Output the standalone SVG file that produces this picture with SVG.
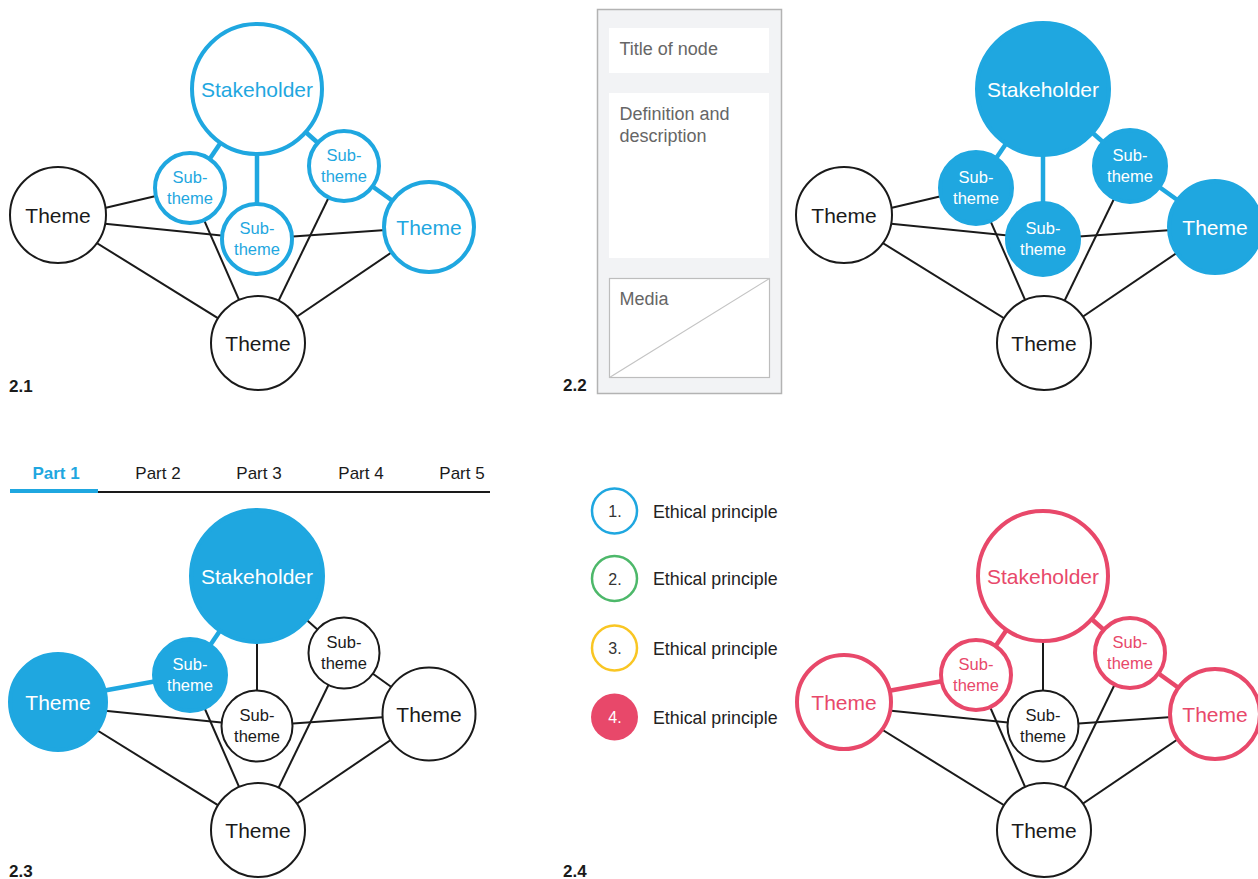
<svg xmlns="http://www.w3.org/2000/svg" width="1258" height="879" viewBox="0 0 1258 879">
<style>
.e{stroke:#1a1a1a;stroke-width:2;fill:none}
.eb{stroke:#1fa7e0;stroke-width:4.5;fill:none}
.ep{stroke:#e8486a;stroke-width:4.5;fill:none}
.n{fill:#fff;stroke:#1a1a1a;stroke-width:2}
.nb{fill:#fff;stroke:#1fa7e0;stroke-width:4}
.nbf{fill:#1fa7e0;stroke:#1fa7e0;stroke-width:4}
.np{fill:#fff;stroke:#e8486a;stroke-width:4}
.t{font-family:"Liberation Sans",Arial,sans-serif;text-anchor:middle}
.big{font-size:21px}
.sm{font-size:16.5px}
.k{fill:#1a1a1a}
.b{fill:#1fa7e0}
.w{fill:#fff}
.p{fill:#e8486a}
.lbl{font-family:"Liberation Sans",Arial,sans-serif;font-size:17px;font-weight:bold;fill:#1a1a1a}
.card{font-family:"Liberation Sans",Arial,sans-serif;font-size:18px;fill:#666}
.leg{font-family:"Liberation Sans",Arial,sans-serif;font-size:17.8px;fill:#222}
.num{font-family:"Liberation Sans",Arial,sans-serif;font-size:16px;text-anchor:middle}
</style>

<!-- Panel 2.1 -->
<g id="panel-2-1">
  <g id="p1-connectors">
    <line class="eb" x1="257" y1="89" x2="190" y2="188"/>
    <line class="eb" x1="257" y1="89" x2="257" y2="239"/>
    <line class="eb" x1="257" y1="89" x2="344" y2="166"/>
    <line class="eb" x1="344" y1="166" x2="429" y2="227"/>
    <line class="e" x1="58" y1="219" x2="190" y2="188"/>
    <line class="e" x1="58" y1="219" x2="257" y2="239"/>
    <line class="e" x1="257" y1="239" x2="429" y2="227"/>
    <line class="e" x1="58" y1="219" x2="258" y2="343"/>
    <line class="e" x1="190" y1="188" x2="258" y2="343"/>
    <line class="e" x1="344" y1="166" x2="258" y2="343"/>
    <line class="e" x1="429" y1="227" x2="258" y2="343"/>
  </g>
  <g id="p1-stakeholder"><circle class="nb" cx="257" cy="89" r="65"/><text class="t big b" x="257" y="96.5">Stakeholder</text></g>
  <g id="p1-subtheme-left"><circle class="nb" cx="190" cy="188" r="35"/><text class="t sm b" x="190" y="183">Sub-</text><text class="t sm b" x="190" y="203.5">theme</text></g>
  <g id="p1-subtheme-mid"><circle class="nb" cx="257" cy="239" r="35"/><text class="t sm b" x="257" y="234">Sub-</text><text class="t sm b" x="257" y="254.5">theme</text></g>
  <g id="p1-subtheme-right"><circle class="nb" cx="344" cy="166" r="35"/><text class="t sm b" x="344" y="161">Sub-</text><text class="t sm b" x="344" y="181.5">theme</text></g>
  <g id="p1-theme-left"><circle class="n" cx="58" cy="215" r="48"/><text class="t big k" x="58" y="223">Theme</text></g>
  <g id="p1-theme-right"><circle class="nb" cx="429" cy="227" r="45"/><text class="t big b" x="429" y="235">Theme</text></g>
  <g id="p1-theme-bottom"><circle class="n" cx="258" cy="343" r="47"/><text class="t big k" x="258" y="351">Theme</text></g>
  <text class="lbl" x="9" y="392">2.1</text>
</g>

<!-- Panel 2.2 card -->
<g id="panel-2-2-card">
  <rect x="597.5" y="9.5" width="184" height="384" fill="#f2f3f5" stroke="#b3b3b3" stroke-width="1.5"/>
  <rect x="609" y="28" width="160" height="45" fill="#fff"/>
  <rect x="609" y="93" width="160" height="165" fill="#fff"/>
  <rect x="609.5" y="278.5" width="160" height="99" fill="#fff" stroke="#bdbdbd" stroke-width="1.2"/>
  <line x1="609.5" y1="377.5" x2="769.5" y2="278.5" stroke="#c4c4c4" stroke-width="1.2"/>
  <text class="card" x="619.5" y="55">Title of node</text>
  <text class="card" x="619.5" y="120">Definition and</text>
  <text class="card" x="619.5" y="142">description</text>
  <text class="card" x="619.5" y="305">Media</text>
  <text class="lbl" x="563" y="391">2.2</text>
</g>

<!-- Panel 2.2 graph -->
<g id="panel-2-2" transform="translate(786,0)">
  <g id="p2-connectors">
    <line class="eb" x1="257" y1="89" x2="190" y2="188"/>
    <line class="eb" x1="257" y1="89" x2="257" y2="239"/>
    <line class="eb" x1="257" y1="89" x2="344" y2="166"/>
    <line class="eb" x1="344" y1="166" x2="429" y2="227"/>
    <line class="e" x1="58" y1="219" x2="190" y2="188"/>
    <line class="e" x1="58" y1="219" x2="257" y2="239"/>
    <line class="e" x1="257" y1="239" x2="429" y2="227"/>
    <line class="e" x1="58" y1="219" x2="258" y2="343"/>
    <line class="e" x1="190" y1="188" x2="258" y2="343"/>
    <line class="e" x1="344" y1="166" x2="258" y2="343"/>
    <line class="e" x1="429" y1="227" x2="258" y2="343"/>
  </g>
  <g id="p2-stakeholder"><circle class="nbf" cx="257" cy="89" r="66"/><text class="t big w" x="257" y="96.5">Stakeholder</text></g>
  <g id="p2-subtheme-left"><circle class="nbf" cx="190" cy="188" r="36"/><text class="t sm w" x="190" y="183">Sub-</text><text class="t sm w" x="190" y="203.5">theme</text></g>
  <g id="p2-subtheme-mid"><circle class="nbf" cx="257" cy="239" r="36"/><text class="t sm w" x="257" y="234">Sub-</text><text class="t sm w" x="257" y="254.5">theme</text></g>
  <g id="p2-subtheme-right"><circle class="nbf" cx="344" cy="166" r="36"/><text class="t sm w" x="344" y="161">Sub-</text><text class="t sm w" x="344" y="181.5">theme</text></g>
  <g id="p2-theme-left"><circle class="n" cx="58" cy="215" r="48"/><text class="t big k" x="58" y="223">Theme</text></g>
  <g id="p2-theme-right"><circle class="nbf" cx="429" cy="227" r="46"/><text class="t big w" x="429" y="235">Theme</text></g>
  <g id="p2-theme-bottom"><circle class="n" cx="258" cy="343" r="47"/><text class="t big k" x="258" y="351">Theme</text></g>
</g>

<!-- Panel 2.3 tabs -->
<g id="panel-2-3-tabs">
  <line x1="10" y1="492" x2="490" y2="492" stroke="#1a1a1a" stroke-width="2"/>
  <line x1="10" y1="491" x2="98" y2="491" stroke="#1fa7e0" stroke-width="4"/>
  <text class="t" x="56" y="479" style="font-size:17px;font-weight:bold;fill:#1fa7e0">Part 1</text>
  <text class="t k" x="158" y="479" style="font-size:17px">Part 2</text>
  <text class="t k" x="259" y="479" style="font-size:17px">Part 3</text>
  <text class="t k" x="361" y="479" style="font-size:17px">Part 4</text>
  <text class="t k" x="462" y="479" style="font-size:17px">Part 5</text>
</g>

<!-- Panel 2.3 graph -->
<g id="panel-2-3" transform="translate(0,487)">
  <g id="p3-connectors">
    <line class="eb" x1="257" y1="89" x2="190" y2="188"/>
    <line class="e" x1="257" y1="89" x2="257" y2="239"/>
    <line class="e" x1="257" y1="89" x2="344" y2="166"/>
    <line class="e" x1="344" y1="166" x2="429" y2="227"/>
    <line class="eb" x1="58" y1="212" x2="190" y2="188"/>
    <line class="e" x1="58" y1="219" x2="257" y2="239"/>
    <line class="e" x1="257" y1="239" x2="429" y2="227"/>
    <line class="e" x1="58" y1="219" x2="258" y2="343"/>
    <line class="e" x1="190" y1="188" x2="258" y2="343"/>
    <line class="e" x1="344" y1="166" x2="258" y2="343"/>
    <line class="e" x1="429" y1="227" x2="258" y2="343"/>
  </g>
  <g id="p3-stakeholder"><circle class="nbf" cx="257" cy="89" r="66"/><text class="t big w" x="257" y="96.5">Stakeholder</text></g>
  <g id="p3-subtheme-left"><circle class="nbf" cx="190" cy="188" r="36"/><text class="t sm w" x="190" y="183">Sub-</text><text class="t sm w" x="190" y="203.5">theme</text></g>
  <g id="p3-subtheme-mid"><circle class="n" cx="257" cy="239" r="35.5"/><text class="t sm k" x="257" y="234">Sub-</text><text class="t sm k" x="257" y="254.5">theme</text></g>
  <g id="p3-subtheme-right"><circle class="n" cx="344" cy="166" r="35.5"/><text class="t sm k" x="344" y="161">Sub-</text><text class="t sm k" x="344" y="181.5">theme</text></g>
  <g id="p3-theme-left"><circle class="nbf" cx="58" cy="215" r="48"/><text class="t big w" x="58" y="223">Theme</text></g>
  <g id="p3-theme-right"><circle class="n" cx="429" cy="227" r="46.5"/><text class="t big k" x="429" y="235">Theme</text></g>
  <g id="p3-theme-bottom"><circle class="n" cx="258" cy="343" r="47"/><text class="t big k" x="258" y="351">Theme</text></g>
  <text class="lbl" x="9" y="390">2.3</text>
</g>

<!-- Legend -->
<g id="legend">
  <g id="legend-1"><circle cx="614.5" cy="511" r="22.5" fill="#fff" stroke="#1fa7e0" stroke-width="2.5"/><text class="num" x="615" y="517" fill="#333">1.</text><text class="leg" x="653" y="517.5">Ethical principle</text></g>
  <g id="legend-2"><circle cx="614.5" cy="578.5" r="22.5" fill="#fff" stroke="#4db86a" stroke-width="2.5"/><text class="num" x="615" y="584.5" fill="#333">2.</text><text class="leg" x="653" y="585">Ethical principle</text></g>
  <g id="legend-3"><circle cx="614.5" cy="648" r="22.5" fill="#fff" stroke="#f9c623" stroke-width="2.5"/><text class="num" x="615" y="654" fill="#333">3.</text><text class="leg" x="653" y="654.5">Ethical principle</text></g>
  <g id="legend-4"><circle cx="614.5" cy="717" r="23.5" fill="#e8486a"/><text class="num" x="615" y="723" fill="#fff">4.</text><text class="leg" x="653" y="723.5">Ethical principle</text></g>
</g>

<!-- Panel 2.4 graph -->
<g id="panel-2-4" transform="translate(786,487)">
  <g id="p4-connectors">
    <line class="ep" x1="257" y1="89" x2="190" y2="188"/>
    <line class="e" x1="257" y1="89" x2="257" y2="239"/>
    <line class="ep" x1="257" y1="89" x2="344" y2="166"/>
    <line class="ep" x1="344" y1="166" x2="429" y2="227"/>
    <line class="ep" x1="58" y1="212" x2="190" y2="188"/>
    <line class="e" x1="58" y1="219" x2="257" y2="239"/>
    <line class="e" x1="257" y1="239" x2="429" y2="227"/>
    <line class="e" x1="58" y1="219" x2="258" y2="343"/>
    <line class="e" x1="190" y1="188" x2="258" y2="343"/>
    <line class="e" x1="344" y1="166" x2="258" y2="343"/>
    <line class="e" x1="429" y1="227" x2="258" y2="343"/>
  </g>
  <g id="p4-stakeholder"><circle class="np" cx="257" cy="89" r="65"/><text class="t big p" x="257" y="96.5">Stakeholder</text></g>
  <g id="p4-subtheme-left"><circle class="np" cx="190" cy="188" r="35"/><text class="t sm p" x="190" y="183">Sub-</text><text class="t sm p" x="190" y="203.5">theme</text></g>
  <g id="p4-subtheme-mid"><circle class="n" cx="257" cy="239" r="35.5"/><text class="t sm k" x="257" y="234">Sub-</text><text class="t sm k" x="257" y="254.5">theme</text></g>
  <g id="p4-subtheme-right"><circle class="np" cx="344" cy="166" r="35"/><text class="t sm p" x="344" y="161">Sub-</text><text class="t sm p" x="344" y="181.5">theme</text></g>
  <g id="p4-theme-left"><circle class="np" cx="58" cy="215" r="47"/><text class="t big p" x="58" y="223">Theme</text></g>
  <g id="p4-theme-right"><circle class="np" cx="429" cy="227" r="45"/><text class="t big p" x="429" y="235">Theme</text></g>
  <g id="p4-theme-bottom"><circle class="n" cx="258" cy="343" r="47"/><text class="t big k" x="258" y="351">Theme</text></g>
  <text class="lbl" x="-223" y="390">2.4</text>
</g>
</svg>
